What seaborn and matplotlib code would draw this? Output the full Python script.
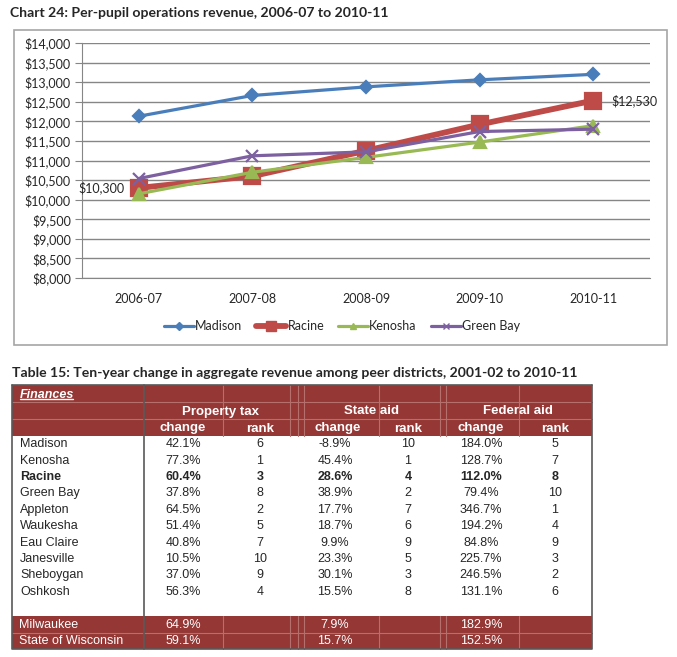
import numpy as np
import pandas as pd
import seaborn as sns
import matplotlib.pyplot as plt
from matplotlib.patches import Rectangle

# ---- chart data ----
years = ['2006-07', '2007-08', '2008-09', '2009-10', '2010-11']
madison = [12130, 12660, 12880, 13060, 13200]
racine = [10300, 10600, 11250, 11920, 12530]
kenosha = [10150, 10700, 11080, 11470, 11890]
green_bay = [10540, 11120, 11220, 11740, 11800]

# ---- table data ----
districts = ['Madison', 'Kenosha', 'Racine', 'Green Bay', 'Appleton', 'Waukesha',
             'Eau Claire', 'Janesville', 'Sheboygan', 'Oshkosh']
prop_change = [42.1, 77.3, 60.4, 37.8, 64.5, 51.4, 40.8, 10.5, 37.0, 56.3]
prop_rank = [6, 1, 3, 8, 2, 5, 7, 10, 9, 4]
state_change = [-8.9, 45.4, 28.6, 38.9, 17.7, 18.7, 9.9, 23.3, 30.1, 15.5]
state_rank = [10, 1, 4, 2, 7, 6, 9, 5, 3, 8]
fed_change = [184.0, 128.7, 112.0, 79.4, 346.7, 194.2, 84.8, 225.7, 246.5, 131.1]
fed_rank = [5, 7, 8, 10, 1, 4, 9, 3, 2, 6]
summary_names = ['Milwaukee', 'State of Wisconsin']
summary_prop = [64.9, 59.1]
summary_state = [7.9, 15.7]
summary_fed = [182.9, 152.5]

sns.set_style('white')
plt.rcParams['font.family'] = ['Lato', 'DejaVu Sans']

W, H = 677, 657
fig = plt.figure(figsize=(W / 100, H / 100), dpi=100)

def fx(px):
    return px / W

def fy(py):
    return 1 - py / H

# overlay axes in pixel units for titles, box and table
ov = fig.add_axes([0, 0, 1, 1])
ov.set_xlim(0, W)
ov.set_ylim(H, 0)
ov.axis('off')

ov.text(10, 13, 'Chart 24: Per-pupil operations revenue, 2006-07 to 2010-11',
        fontsize=10.1, fontweight='bold', va='center', ha='left')
ov.add_patch(Rectangle((14, 30), 653, 315, fill=False, edgecolor='#A6A6A6', lw=1.2))

# ---- line chart ----
ax = fig.add_axes([fx(82), fy(278), (650 - 82) / W, (278 - 43) / H])
df = pd.DataFrame({
    'Year': years * 4,
    'District': ['Madison'] * 5 + ['Racine'] * 5 + ['Kenosha'] * 5 + ['Green Bay'] * 5,
    'Revenue': madison + racine + kenosha + green_bay,
})
colors = {'Madison': '#4A7EBB', 'Racine': '#BE4B48', 'Kenosha': '#98B954', 'Green Bay': '#7D60A0'}
markers = {'Madison': 'D', 'Racine': 's', 'Kenosha': '^', 'Green Bay': 'x'}
widths = {'Madison': 2.3, 'Racine': 4.2, 'Kenosha': 2.3, 'Green Bay': 2.3}
msizes = {'Madison': 6.5, 'Racine': 12, 'Kenosha': 8, 'Green Bay': 8}
leg_msizes = {'Madison': 4.5, 'Racine': 6.5, 'Kenosha': 5, 'Green Bay': 5}

order = ['Madison', 'Racine', 'Kenosha', 'Green Bay']
for name in order:
    sub = df[df['District'] == name]
    sns.lineplot(data=sub, x='Year', y='Revenue', ax=ax, color=colors[name],
                 marker=markers[name], markersize=msizes[name], linewidth=widths[name],
                 markeredgecolor=colors[name], markeredgewidth=1.6, label=name, sort=False)

ax.set_xlim(-0.5, 4.5)
ax.set_ylim(8000, 14000)
ax.set_yticks(np.arange(8000, 14001, 500))
ax.set_yticklabels([f'${v:,.0f}' for v in np.arange(8000, 14001, 500)], fontsize=9)
ax.set_xticks(range(len(years)))
ax.set_xticklabels(years, fontsize=9)
ax.set_xticks(np.arange(-0.5, 4.6, 1), minor=True)
ax.tick_params(axis='x', which='major', length=0, pad=11)
ax.tick_params(axis='x', which='minor', length=5, color='#868686', direction='out')
ax.tick_params(axis='y', length=5, color='#868686', direction='out', left=True, pad=3)
ax.grid(axis='y', color='#868686', lw=1)
ax.set_axisbelow(True)
for s in ['top', 'right']:
    ax.spines[s].set_visible(False)
for s in ['left', 'bottom']:
    ax.spines[s].set_color('#868686')
ax.set_xlabel('')
ax.set_ylabel('')

ax.annotate(f'${racine[0]:,}', xy=(0, racine[0]), xytext=(-10, 0), textcoords='offset points',
            ha='right', va='center', fontsize=9)
ax.annotate(f'${racine[-1]:,}', xy=(4, racine[-1]), xytext=(13, 0), textcoords='offset points',
            ha='left', va='center', fontsize=9)

leg = ax.legend(loc='center', bbox_to_anchor=(fx(342), fy(326)), bbox_transform=fig.transFigure,
                ncol=4, frameon=False, handlelength=2.4, handletextpad=0.1, columnspacing=1.1,
                fontsize=9)
for h, name in zip(leg.legend_handles, order):
    h.set_markersize(leg_msizes[name])
    h.set_markeredgewidth(1.0)

# ---- table ----
ov.text(12, 373, 'Table 15: Ten-year change in aggregate revenue among peer districts, 2001-02 to 2010-11',
        fontsize=10.1, fontweight='bold', va='center', ha='left')

red = '#953735'
faint = '#B5706E'
tleft, tright = 12, 592
head_top = 385
hrow = 17
body_top = head_top + 3 * hrow
rrow = 16.4
foot_top = body_top + (len(districts) + 1) * rrow
foot_bot = foot_top + 2 * rrow

ov.add_patch(Rectangle((tleft, head_top), tright - tleft, 3 * hrow, color=red, lw=0))
ov.add_patch(Rectangle((tleft, foot_top), tright - tleft, foot_bot - foot_top, color=red, lw=0))
for yy in [head_top + hrow, head_top + 2 * hrow, foot_top + rrow]:
    ov.plot([tleft, tright], [yy, yy], color=faint, lw=0.8)
for xx in [223, 290, 298, 304, 379, 440, 446, 519]:
    ov.plot([xx, xx], [head_top, body_top], color=faint, lw=0.8)
    ov.plot([xx, xx], [foot_top, foot_bot], color=faint, lw=0.8)
ov.plot([tleft, tleft, tright, tright], [head_top, foot_bot, foot_bot, head_top], color='#595959', lw=1.2)
ov.plot([144, 144], [head_top, foot_bot], color='#595959', lw=1.2)
ov.plot([tleft, tright], [head_top, head_top], color='#595959', lw=1.2)

tfont = ['Liberation Sans', 'DejaVu Sans']
name_x = 20
cols_x = [183, 260, 335, 408, 481, 555]

ov.text(name_x, head_top + hrow / 2 + 1, 'Finances', color='white', fontsize=9, fontweight='bold',
        fontstyle='italic', va='center', ha='left', family=tfont)
ov.plot([name_x, name_x + 53], [head_top + hrow - 3, head_top + hrow - 3], color='white', lw=1)
for label, xc in zip(['Property tax', 'State aid', 'Federal aid'], [221, 371, 518]):
    ov.text(xc, head_top + 1.5 * hrow + 1, label, color='white', fontsize=9.5, fontweight='bold',
            va='center', ha='center', family=tfont)
for i, xc in enumerate(cols_x):
    ov.text(xc + (3 if i == 2 else 0), head_top + 2.5 * hrow + 1, 'change' if i % 2 == 0 else 'rank',
            color='white', fontsize=9.5, fontweight='bold', va='center', ha='center', family=tfont)

for i, name in enumerate(districts):
    yc = body_top + (i + 0.5) * rrow
    fw = 'bold' if name == 'Racine' else 'normal'
    vals = [f'{prop_change[i]:.1f}%', str(prop_rank[i]), f'{state_change[i]:.1f}%',
            str(state_rank[i]), f'{fed_change[i]:.1f}%', str(fed_rank[i])]
    ov.text(name_x, yc, name, fontsize=9, fontweight=fw, va='center', ha='left', family=tfont)
    for v, xc in zip(vals, cols_x):
        ov.text(xc, yc, v, fontsize=9, fontweight=fw, va='center', ha='center', family=tfont)

for i, name in enumerate(summary_names):
    yc = foot_top + (i + 0.5) * rrow
    ov.text(name_x - 1, yc, name, color='white', fontsize=9, va='center', ha='left', family=tfont)
    for v, xc in zip([summary_prop[i], summary_state[i], summary_fed[i]], [183, 335, 481]):
        ov.text(xc, yc, f'{v:.1f}%', color='white', fontsize=9, va='center', ha='center', family=tfont)

fig.savefig('out.png', dpi=100)
